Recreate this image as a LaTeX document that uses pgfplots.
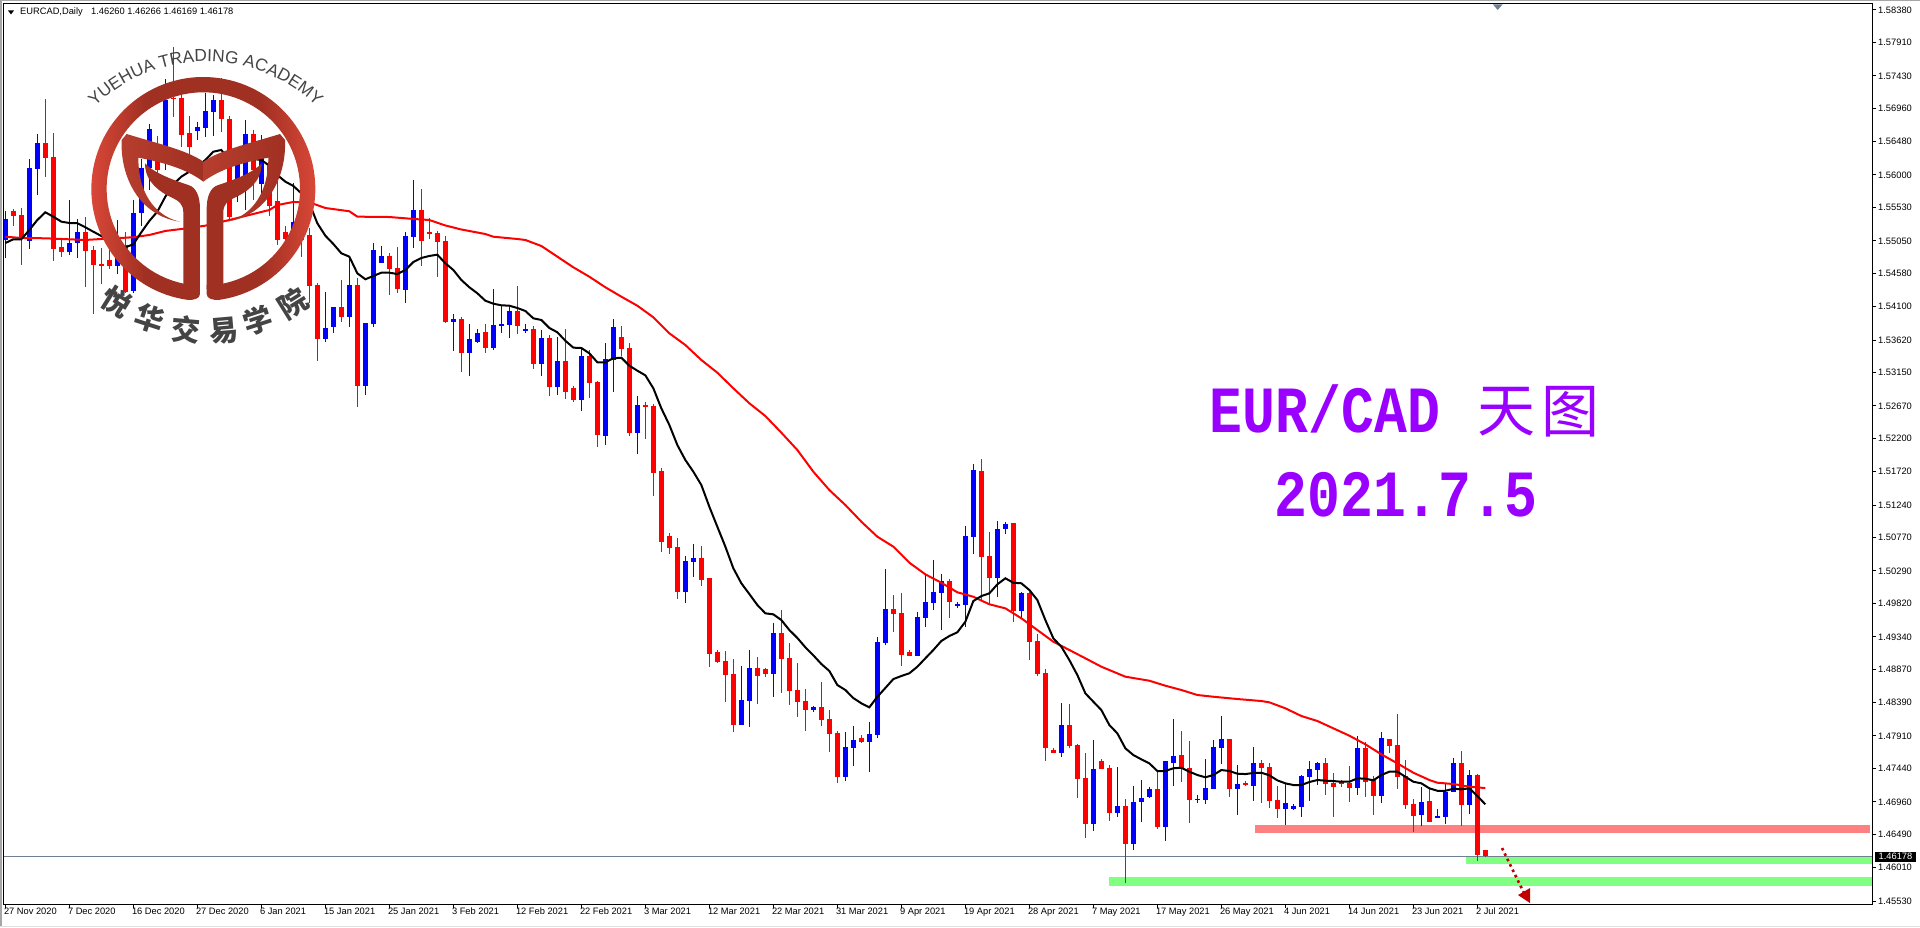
\documentclass[border=0pt]{standalone}
\usepackage{fontspec}
\usepackage{pgfplots}
\usepackage{pgfplotstable}
\pgfplotsset{compat=1.18}
\usetikzlibrary{decorations.text}
\setmainfont{Liberation Sans}
\newfontfamily\monof{Liberation Mono}
\newfontfamily\cjk{Noto Sans CJK SC}

\definecolor{mtred}{HTML}{FF0000}
\definecolor{mtblue}{HTML}{0000FF}
\definecolor{salmon}{HTML}{FF8080}
\definecolor{mtgreen}{HTML}{80FF80}
\definecolor{pline}{HTML}{708090}
\definecolor{arrowred}{HTML}{C00000}
\definecolor{title}{HTML}{9900FF}
\definecolor{logoL}{HTML}{E04A3A}
\definecolor{logoM}{HTML}{A03022}
\definecolor{logoB}{HTML}{B63E2E}
\definecolor{logotext}{HTML}{444444}
\pgfdeclarehorizontalshading{logoshade}{100bp}{color(0bp)=(logoL); color(25bp)=(logoL); color(38bp)=(logoM); color(62bp)=(logoM); color(75bp)=(logoL); color(100bp)=(logoL)}

% candles: index, high, body top, body bottom, low
\pgfplotstableread{
i H T B L
0 1.55481 1.55361 1.55063 1.54799
3 1.56227 1.56101 1.55053 1.54933
4 1.56587 1.56457 1.56091 1.55712
8 1.55640 1.55019 1.54890 1.54846
9 1.55361 1.55178 1.55024 1.54799
14 1.55351 1.55063 1.54688 1.54572
16 1.55640 1.55448 1.54327 1.54294
17 1.56227 1.56101 1.55448 1.55265
18 1.56736 1.56664 1.56101 1.55784
20 1.57380 1.57082 1.56408 1.56072
24 1.56769 1.56692 1.56639 1.56505
25 1.57178 1.56923 1.56682 1.56553
26 1.57154 1.57082 1.56913 1.56563
29 1.56361 1.56216 1.55856 1.55615
30 1.56793 1.56587 1.55976 1.55495
32 1.56577 1.56241 1.55870 1.55640
36 1.55889 1.55327 1.54918 1.54846
40 1.54313 1.53789 1.53635 1.53596
41 1.54096 1.54096 1.53808 1.53726
43 1.54822 1.54414 1.53957 1.53812
45 1.53866 1.53866 1.52961 1.52827
46 1.55015 1.54918 1.53851 1.53812
47 1.54976 1.54832 1.54735 1.54735
50 1.55174 1.55120 1.54346 1.54158
51 1.55928 1.55495 1.55106 1.54952
56 1.53995 1.53923 1.53880 1.53466
58 1.53851 1.53635 1.53437 1.53106
59 1.53779 1.53721 1.53592 1.53577
61 1.54356 1.53837 1.53505 1.53476
62 1.54125 1.53851 1.53827 1.53721
63 1.54096 1.54039 1.53841 1.53649
65 1.53851 1.53779 1.53750 1.53721
67 1.53765 1.53649 1.53279 1.53106
69 1.53664 1.53318 1.52947 1.52832
72 1.53491 1.53390 1.52760 1.52601
75 1.53577 1.53346 1.52240 1.52106
76 1.53923 1.53808 1.53332 1.52875
79 1.52813 1.52683 1.52279 1.51981
85 1.50505 1.50433 1.49991 1.49832
86 1.50678 1.50477 1.50423 1.50207
92 1.48919 1.48429 1.48068 1.48068
93 1.49150 1.48890 1.48414 1.48039
96 1.49539 1.49395 1.48804 1.48472
101 1.48342 1.48328 1.48284 1.48256
105 1.47967 1.47751 1.47318 1.47260
106 1.48054 1.47852 1.47736 1.47477
108 1.48111 1.47938 1.47823 1.47390
109 1.49337 1.49265 1.47924 1.47881
110 1.50318 1.49741 1.49251 1.49222
114 1.49698 1.49626 1.49063 1.49063
115 1.50246 1.49842 1.49611 1.49481
116 1.50448 1.49986 1.49828 1.49727
117 1.50246 1.50145 1.49972 1.49438
119 1.49842 1.49813 1.49784 1.49755
120 1.50938 1.50794 1.49799 1.49481
121 1.51832 1.51746 1.50779 1.50534
124 1.51010 1.50895 1.50188 1.49914
125 1.50996 1.50967 1.50895 1.50823
127 1.49986 1.49972 1.49712 1.49597
132 1.48385 1.48068 1.47664 1.47607
136 1.47852 1.47434 1.46640 1.46539
139 1.47462 1.46900 1.46799 1.46741
141 1.47188 1.46958 1.46352 1.46265
142 1.47275 1.47015 1.46958 1.46669
143 1.47174 1.47145 1.47030 1.47015
145 1.47549 1.47549 1.46597 1.46395
146 1.48155 1.47621 1.47520 1.47188
149 1.47059 1.47001 1.46986 1.46943
150 1.47578 1.47159 1.46986 1.46929
151 1.47852 1.47751 1.47145 1.47145
152 1.48198 1.47866 1.47736 1.47506
154 1.47491 1.47217 1.47145 1.46770
156 1.47751 1.47520 1.47188 1.46972
160 1.47217 1.46943 1.46857 1.46626
161 1.46929 1.46900 1.46857 1.46842
162 1.47347 1.47333 1.46885 1.46741
163 1.47549 1.47434 1.47318 1.46972
164 1.47534 1.47520 1.47419 1.47203
169 1.47910 1.47736 1.47159 1.47059
172 1.47967 1.47881 1.47044 1.46943
177 1.47174 1.46958 1.46770 1.46611
179 1.46857 1.46756 1.46727 1.46727
180 1.47217 1.47102 1.46741 1.46640
181 1.47592 1.47520 1.47102 1.47102
183 1.47419 1.47347 1.46914 1.46784
}\blueT

\pgfplotstableread{
i H T B L
1 1.55505 1.55485 1.55409 1.55265
2 1.55520 1.55423 1.55087 1.54702
5 1.57096 1.56457 1.56250 1.55976
6 1.56602 1.56260 1.54933 1.54760
7 1.55092 1.54962 1.54890 1.54822
10 1.55394 1.55178 1.54908 1.54389
11 1.54976 1.54918 1.54702 1.53995
12 1.54943 1.54717 1.54692 1.54428
13 1.54918 1.54774 1.54688 1.54649
15 1.55174 1.54991 1.54317 1.54294
19 1.56563 1.56447 1.56072 1.55856
21 1.57850 1.57115 1.57092 1.56832
22 1.57226 1.57115 1.56577 1.56408
23 1.56851 1.56602 1.56408 1.56264
27 1.57395 1.57082 1.56803 1.56625
28 1.56855 1.56808 1.55399 1.55351
31 1.56649 1.56587 1.56072 1.55640
33 1.56144 1.56130 1.55553 1.55409
34 1.55928 1.55625 1.55063 1.54991
35 1.55265 1.55182 1.55073 1.54947
37 1.55567 1.55394 1.55063 1.54818
38 1.55231 1.55135 1.54404 1.54150
39 1.54438 1.54414 1.53635 1.53322
42 1.54486 1.54096 1.53957 1.53884
44 1.54510 1.54414 1.52961 1.52659
48 1.54871 1.54832 1.54649 1.54270
49 1.54962 1.54659 1.54360 1.54294
52 1.55798 1.55495 1.55053 1.54692
53 1.55380 1.55178 1.55154 1.55077
54 1.55193 1.55164 1.55038 1.54533
55 1.55120 1.55048 1.53880 1.53870
57 1.53952 1.53923 1.53437 1.53163
60 1.53851 1.53736 1.53510 1.53437
64 1.54399 1.54039 1.53827 1.53707
66 1.53822 1.53779 1.53279 1.53202
68 1.53693 1.53649 1.52947 1.52817
70 1.53779 1.53318 1.52875 1.52774
71 1.52957 1.52928 1.52760 1.52731
73 1.53476 1.53390 1.53005 1.52788
74 1.53029 1.53015 1.52255 1.52082
77 1.53822 1.53664 1.53495 1.53394
78 1.53577 1.53505 1.52279 1.52240
80 1.52726 1.52683 1.52654 1.52197
81 1.52698 1.52669 1.51707 1.51375
82 1.51774 1.51731 1.50712 1.50567
83 1.50837 1.50794 1.50625 1.50539
84 1.50765 1.50635 1.49991 1.49890
87 1.50650 1.50477 1.50164 1.50077
88 1.50188 1.50188 1.49096 1.48909
89 1.49150 1.49121 1.48977 1.48962
90 1.49135 1.48991 1.48789 1.48400
91 1.49020 1.48804 1.48068 1.47967
94 1.49049 1.48890 1.48775 1.48371
95 1.48890 1.48876 1.48804 1.48760
97 1.49727 1.49395 1.49020 1.48530
98 1.49251 1.49034 1.48558 1.48356
99 1.48962 1.48573 1.48400 1.48183
100 1.48587 1.48414 1.48284 1.47981
102 1.48688 1.48328 1.48140 1.48054
103 1.48284 1.48155 1.47938 1.47679
104 1.47981 1.47953 1.47318 1.47232
107 1.47924 1.47881 1.47823 1.47808
111 1.49943 1.49741 1.49669 1.49409
112 1.49972 1.49683 1.49078 1.48919
113 1.49150 1.49121 1.49063 1.49063
118 1.50174 1.50145 1.49842 1.49611
122 1.51904 1.51731 1.50491 1.49871
123 1.50852 1.50505 1.50188 1.49813
126 1.50981 1.50981 1.49712 1.49554
128 1.49986 1.49972 1.49265 1.49005
129 1.49380 1.49280 1.48804 1.48775
130 1.48876 1.48818 1.47736 1.47549
131 1.47736 1.47707 1.47664 1.47664
133 1.48371 1.48068 1.47765 1.47736
134 1.47794 1.47780 1.47289 1.47015
135 1.47664 1.47304 1.46640 1.46438
137 1.47578 1.47549 1.47434 1.47434
138 1.47491 1.47448 1.46799 1.46684
140 1.47001 1.46900 1.46352 1.45789
144 1.47419 1.47145 1.46597 1.46568
147 1.47981 1.47635 1.47448 1.47246
148 1.47837 1.47448 1.46986 1.46655
153 1.47866 1.47866 1.47145 1.47030
155 1.47260 1.47232 1.47203 1.47188
157 1.47563 1.47520 1.47448 1.46943
158 1.47520 1.47462 1.46972 1.46871
159 1.47188 1.46986 1.46857 1.46727
165 1.47592 1.47520 1.47217 1.47059
166 1.47376 1.47232 1.47174 1.46741
167 1.47275 1.47246 1.47217 1.47174
168 1.47477 1.47232 1.47159 1.46958
170 1.47823 1.47736 1.47246 1.47030
171 1.47333 1.47289 1.47044 1.46770
173 1.47866 1.47866 1.47765 1.47664
174 1.48227 1.47780 1.47318 1.47145
175 1.47563 1.47333 1.46914 1.46857
176 1.47001 1.46929 1.46756 1.46525
178 1.47159 1.46972 1.46669 1.46669
182 1.47693 1.47520 1.46914 1.46611
184 1.47361 1.47347 1.46193 1.46107
185 1.46266 1.46260 1.46178 1.46169
}\redT

\begin{document}
\begin{tikzpicture}[x=1pt,y=1pt]
\useasboundingbox (0,0) rectangle (1920,927);
% window edges
\fill[gray!70] (0,925.5) rectangle (1920,927);
\fill[gray!70] (0,0) rectangle (1.5,927);
\fill[gray!25] (0,0) rectangle (1920,1.5);

\begin{axis}[
    at={(4pt,23pt)}, anchor=south west,
    width=1868pt, height=900pt, scale only axis,
    xmin=-0.166, xmax=233.33,
    ymin=1.45487, ymax=1.58466,
    axis line style={black, line width=1pt},
    tick style={black, line width=1pt},
    major tick length=4pt,
    tick align=outside,
    xtick pos=bottom, ytick pos=right,
    yticklabel pos=right,
    scaled ticks=false,
    xtick={0,8,...,184},
    xticklabels={27 Nov 2020,7 Dec 2020,16 Dec 2020,27 Dec 2020,6 Jan 2021,15 Jan 2021,25 Jan 2021,3 Feb 2021,12 Feb 2021,22 Feb 2021,3 Mar 2021,12 Mar 2021,22 Mar 2021,31 Mar 2021,9 Apr 2021,19 Apr 2021,28 Apr 2021,7 May 2021,17 May 2021,26 May 2021,4 Jun 2021,14 Jun 2021,23 Jun 2021,2 Jul 2021},
    ytick={1.5838,1.5791,1.5743,1.5696,1.5648,1.56,1.5553,1.5505,1.5458,1.541,1.5362,1.5315,1.5267,1.522,1.5172,1.5124,1.5077,1.5029,1.4982,1.4934,1.4887,1.4839,1.4791,1.4744,1.4696,1.4649,1.4601,1.4553},
    yticklabels={1.58380,1.57910,1.57430,1.56960,1.56480,1.56000,1.55530,1.55050,1.54580,1.54100,1.53620,1.53150,1.52670,1.52200,1.51720,1.51240,1.50770,1.50290,1.49820,1.49340,1.48870,1.48390,1.47910,1.47440,1.46960,1.46490,1.46010,1.45530},
    xticklabel style={anchor=north west, inner sep=0pt, xshift=-1.5pt, yshift=0pt, font=\fontsize{9.3}{11}\selectfont},
    yticklabel style={anchor=west, inner sep=0pt, xshift=2pt, font=\fontsize{9.3}{11}\selectfont},
]
% zones
\addplot[fill=salmon, draw=none, forget plot] coordinates {(156.2,1.46626) (233.08,1.46626) (233.08,1.46510) (156.2,1.46510)} -- cycle;
\addplot[fill=mtgreen, draw=none, forget plot] coordinates {(182.58,1.46179) (233.33,1.46179) (233.33,1.46063) (182.58,1.46063)} -- cycle;
\addplot[fill=mtgreen, draw=none, forget plot] coordinates {(137.96,1.45876) (233.33,1.45876) (233.33,1.45750) (137.96,1.45750)} -- cycle;
% current price line
\addplot[pline, line width=1pt, forget plot] coordinates {(-0.166,1.46178) (233.33,1.46178)};

% wicks
\addplot[draw=none, no markers, forget plot, error bars/.cd, y dir=minus, y explicit, error mark=none, error bar style={mtblue, solid, line width=1pt}]
    table[x=i, y=H, y error minus expr=\thisrow{H}-\thisrow{L}] {\blueT};
\addplot[draw=none, no markers, forget plot, error bars/.cd, y dir=minus, y explicit, error mark=none, error bar style={mtred, solid, line width=1pt}]
    table[x=i, y=H, y error minus expr=\thisrow{H}-\thisrow{L}] {\redT};
% bodies
\addplot[draw=none, no markers, forget plot, error bars/.cd, y dir=minus, y explicit, error mark=none, error bar style={mtblue, solid, line width=5pt}]
    table[x=i, y=T, y error minus expr=\thisrow{T}-\thisrow{B}] {\blueT};
\addplot[draw=none, no markers, forget plot, error bars/.cd, y dir=minus, y explicit, error mark=none, error bar style={mtred, solid, line width=5pt}]
    table[x=i, y=T, y error minus expr=\thisrow{T}-\thisrow{B}] {\redT};

% slow average
\addplot[mtred, line width=2pt, forget plot] coordinates {
(0,1.55110) (2,1.55092) (5,1.55087) (10,1.55063) (12,1.55077) (16,1.55102) (18,1.55135) (20,1.55193) (22,1.55221) (25,1.55269) (28,1.55351) (30,1.55409) (33,1.55495) (34,1.55567) (36,1.55611) (38,1.55606) (40,1.55524) (43,1.55477) (44,1.55399) (48,1.55394) (51,1.55366) (53,1.55351) (55,1.55272) (57,1.55214) (60,1.55149) (61,1.55110) (64,1.55077) (65,1.55063) (67,1.54976) (69,1.54822) (71,1.54669) (73,1.54533) (75,1.54381) (77,1.54245) (79,1.54115) (81,1.53948) (83,1.53717) (85,1.53548) (87,1.53332) (89,1.53149) (91,1.52924) (93,1.52708) (95,1.52524) (97,1.52284) (99,1.52034) (101,1.51721) (103,1.51457) (105,1.51241) (107,1.51000) (109,1.50784) (111,1.50640) (113,1.50409) (115,1.50241) (117,1.50120) (119,1.49982) (121,1.49918) (123,1.49809) (125,1.49751) (127,1.49607) (129,1.49438) (131,1.49269) (133,1.49150) (135,1.49030) (137,1.48909) (140,1.48765) (143,1.48707) (145,1.48635) (147,1.48573) (149,1.48501) (151,1.48476) (154,1.48443) (157,1.48414) (158,1.48395) (160,1.48309) (162,1.48198) (164,1.48126) (166,1.48020) (168,1.47914) (170,1.47790) (172,1.47645) (174,1.47515) (176,1.47380) (178,1.47275) (179,1.47236) (181,1.47217) (183,1.47178) (185,1.47159)
};
% fast average
\addplot[black, line width=2pt, forget plot] coordinates {
(0,1.55019) (1,1.55073) (2,1.55073) (3,1.55207) (4,1.55351) (5,1.55462) (6,1.55399) (7,1.55327) (8,1.55308) (9,1.55304) (10,1.55246) (11,1.55182) (12,1.55120) (13,1.55053) (14,1.55005) (15,1.54957) (16,1.55001) (17,1.55174) (18,1.55337) (19,1.55471) (20,1.55687) (21,1.55866) (22,1.55976) (23,1.56048) (24,1.56120) (25,1.56216) (26,1.56336) (27,1.56361) (28,1.56216) (29,1.56202) (30,1.56227) (31,1.56231) (32,1.56216) (33,1.56134) (34,1.56000) (35,1.55904) (36,1.55842) (37,1.55736) (38,1.55592) (39,1.55304) (40,1.55125) (41,1.55005) (42,1.54871) (43,1.54822) (44,1.54582) (45,1.54496) (46,1.54544) (47,1.54591) (48,1.54591) (49,1.54572) (50,1.54630) (51,1.54745) (52,1.54803) (53,1.54832) (54,1.54851) (55,1.54727) (56,1.54630) (57,1.54486) (58,1.54381) (59,1.54294) (60,1.54187) (61,1.54144) (62,1.54121) (63,1.54115) (64,1.54082) (65,1.54039) (66,1.53933) (67,1.53909) (68,1.53794) (69,1.53732) (70,1.53610) (71,1.53510) (72,1.53505) (73,1.53429) (74,1.53299) (75,1.53299) (76,1.53357) (77,1.53365) (78,1.53250) (79,1.53178) (80,1.53111) (81,1.52924) (82,1.52635) (83,1.52395) (84,1.52106) (85,1.51890) (86,1.51721) (87,1.51529) (88,1.51216) (89,1.50928) (90,1.50640) (91,1.50328) (92,1.50112) (93,1.49957) (94,1.49799) (95,1.49679) (96,1.49664) (97,1.49582) (98,1.49438) (99,1.49323) (100,1.49189) (101,1.49073) (102,1.48948) (103,1.48847) (104,1.48645) (105,1.48573) (106,1.48457) (107,1.48381) (108,1.48323) (109,1.48476) (110,1.48602) (111,1.48731) (112,1.48775) (113,1.48814) (114,1.48909) (115,1.49030) (116,1.49150) (117,1.49280) (118,1.49352) (119,1.49405) (120,1.49558) (121,1.49856) (122,1.49928) (123,1.49967) (124,1.50097) (125,1.50184) (126,1.50120) (127,1.50112) (128,1.50015) (129,1.49871) (130,1.49582) (131,1.49318) (132,1.49197) (133,1.49005) (134,1.48789) (135,1.48525) (136,1.48404) (137,1.48284) (138,1.48068) (139,1.47948) (140,1.47732) (141,1.47635) (142,1.47573) (143,1.47515) (144,1.47405) (145,1.47405) (146,1.47444) (147,1.47452) (148,1.47395) (149,1.47347) (150,1.47314) (151,1.47347) (152,1.47419) (153,1.47405) (154,1.47366) (155,1.47361) (156,1.47376) (157,1.47380) (158,1.47343) (159,1.47270) (160,1.47227) (161,1.47203) (162,1.47203) (163,1.47246) (164,1.47275) (165,1.47265) (166,1.47260) (167,1.47250) (168,1.47250) (169,1.47299) (170,1.47294) (171,1.47270) (172,1.47347) (173,1.47395) (174,1.47395) (175,1.47322) (176,1.47250) (177,1.47227) (178,1.47155) (179,1.47120) (180,1.47120) (181,1.47149) (182,1.47141) (183,1.47155) (184,1.47044) (185,1.46924)
};
% dotted arrow
\addplot[arrowred, line width=2.6pt, dash pattern=on 2.6pt off 3.4pt, forget plot] coordinates {(187.08,1.46294) (189.83,1.45645)};
\addplot[fill=arrowred, draw=none, forget plot] coordinates {(189.08,1.45616) (190.58,1.45717) (190.58,1.45501)} -- cycle;
\end{axis}

% chart header
\fill[black] (8,916.5) -- (14,916.5) -- (11,912.5) -- cycle;
\node[anchor=base west, inner sep=0pt, font=\fontsize{9.3}{11}\selectfont] at (20,912) {EURCAD,Daily};
\node[anchor=base west, inner sep=0pt, font=\fontsize{9.3}{11}\selectfont] at (91,912) {1.46260 1.46266 1.46169 1.46178};
% shift marker
\fill[pline] (1493,922.5) -- (1502.5,922.5) -- (1497.7,917) -- cycle;
% price tag
\fill[black] (1875,65.3) rectangle (1916,75.3);
\node[anchor=center, inner sep=0pt, text=white, font=\fontsize{9.3}{11}\selectfont] at (1895.5,70.3) {1.46178};

% titles
\node[anchor=base, inner sep=0pt, text=title, xscale=.83, font=\monof\bfseries\fontsize{66}{66}\selectfont] at (1325,494.3) {EUR/CAD};
\node[anchor=center, inner sep=0pt, text=title, font=\cjk\fontsize{58}{58}\selectfont] at (1506,515.3) {天};
\node[anchor=center, inner sep=0pt, text=title, font=\cjk\fontsize{58}{58}\selectfont] at (1570,515.3) {图};
\node[anchor=base, inner sep=0pt, text=title, xscale=.83, font=\monof\bfseries\fontsize{66}{66}\selectfont] at (1406,410.3) {2021.7.5};

% logo
\begin{scope}[shift={(203.33,738)}, x=0.33333pt, y=0.33333pt]
  \path[shading=logoshade]
    (262.3:336) arc[start angle=262.3, end angle=-82.3, radius=336]
    .. controls (30,-333) and (10,-330) .. (10,-315) -- (10,-288) -- (60,-283.7)
    arc[start angle=-78.06, end angle=258.06, radius=290]
    -- (-10,-288) -- (-10,-315) .. controls (-10,-330) and (-30,-333) .. cycle;
  \foreach \s in {1,-1}{
    \begin{scope}[xscale=\s]
      \path[left color=logoB, right color=logoM]
        (0,82) .. controls (-50,117) and (-140,137) .. (-230,165) -- (-245,147)
        .. controls (-250,40) and (-195,-80) .. (-70,-98)
        .. controls (-130,-85) and (-195,-30) .. (-195,94)
        .. controls (-120,80) and (-50,60) .. (0,22) -- cycle;
      \fill[logoM]
        (-175,77) .. controls (-150,50) and (-100,30) .. (-45,12)
        .. controls (-20,5) and (-10,-25) .. (-10,-60) -- (-10,-300) -- (-60,-290) -- (-60,-70)
        .. controls (-60,-45) and (-75,-35) .. (-90,-28)
        .. controls (-130,-10) and (-175,20) .. (-175,77) -- cycle;
    \end{scope}
  }
\end{scope}
\path[decorate, decoration={text along path, text align=center,
    text={|\fontsize{17.3}{17}\selectfont\color{logotext}|YUEHUA TRADING ACADEMY}}]
  ([shift=(139:158.7)]205.7,706.7) arc[start angle=139, end angle=41, radius=158.7];
\foreach \px/\py/\r/\g in {116.7/301.7/-32/悦, 150/318.3/-18/华, 186/330/-5/交, 224/331/5/易, 258.3/320/18/学, 292.7/303.3/32/院}{
  \node[anchor=center, inner sep=0pt, rotate=\r, text=logotext, font=\cjk\bfseries\fontsize{29}{29}\selectfont] at (\px,927-\py) {\g};
}
\end{tikzpicture}
\end{document}
